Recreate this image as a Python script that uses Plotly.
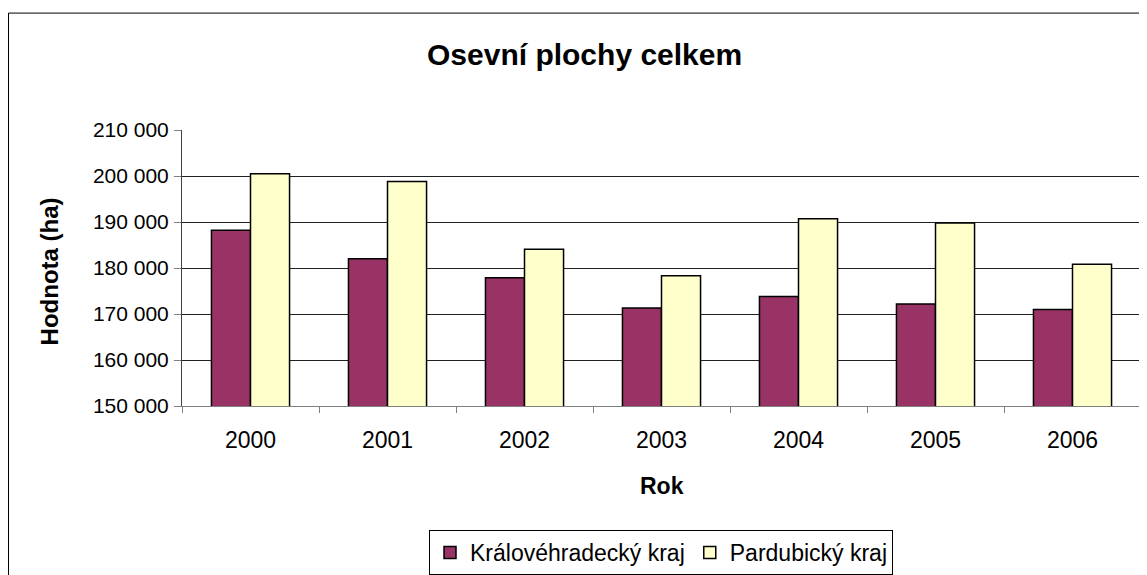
import plotly.graph_objects as go

years = ["2000", "2001", "2002", "2003", "2004", "2005", "2006"]
kralovehradecky = [188200, 182000, 177900, 171300, 173800, 172200, 171000]
pardubicky = [200500, 198800, 184100, 178300, 190700, 189800, 180800]
series_names = ["Královéhradecký kraj", "Pardubický kraj"]
y_ticks = [150000, 160000, 170000, 180000, 190000, 200000, 210000]

FONT = "Arial, Liberation Sans, sans-serif"
W, H = 1147, 575
OFF = 8  # page body margin shifts the figure by this much
# target plot area in screen pixels
PL, PR, PT, PB = 182, 1141, 129.5, 405.7
L = PL - OFF
T = PT - OFF
R = W - (PR - OFF)
B = H - (PB - OFF)

fig = go.Figure()
fig.add_trace(go.Bar(
    x=years, y=kralovehradecky, name=series_names[0],
    marker=dict(color="#993366", line=dict(color="black", width=1.5)),
))
fig.add_trace(go.Bar(
    x=years, y=pardubicky, name=series_names[1],
    marker=dict(color="#FFFFCC", line=dict(color="black", width=1.5)),
))

pw = PR - PL
ph = PB - PT

def px_x(p):
    return (p - PL) / pw

def px_y(p):
    return (PB - p) / ph

fig.update_layout(
    width=W, height=H,
    margin=dict(l=L, r=R, t=T, b=B, pad=0, autoexpand=False),
    paper_bgcolor="white", plot_bgcolor="white",
    barmode="group", bargap=0.43, bargroupgap=0,
    separators=", ",
    font=dict(family=FONT, color="black"),
    showlegend=True,
    legend=dict(
        orientation="h", x=px_x(661), xanchor="center",
        yref="container", y=1 - (530 - OFF) / H, yanchor="top",
        bordercolor="black", borderwidth=1, bgcolor="white",
        font=dict(size=23, family=FONT, color="black"),
        itemwidth=30, traceorder="normal",
    ),
    xaxis=dict(
        type="category", tickson="boundaries", ticks="outside", ticklen=6,
        tickcolor="#808080", showline=True, linecolor="#808080", linewidth=1,
        showgrid=False, tickfont=dict(size=23, family=FONT, color="black"),
        ticklabelstandoff=13, fixedrange=True, automargin=False,
    ),
    yaxis=dict(
        range=[150000, 210000], tickvals=y_ticks, tickformat=",.0f",
        ticks="outside", ticklen=7, tickcolor="#808080",
        showline=True, linecolor="#404040", linewidth=1,
        showgrid=True, gridcolor="#202020", gridwidth=1,
        tickfont=dict(size=21, family=FONT, color="black"),
        ticklabelstandoff=1, zeroline=False, fixedrange=True, automargin=False,
    ),
    shapes=[dict(
        type="rect", xref="paper", yref="paper",
        x0=px_x(8.5), x1=px_x(1170), y0=px_y(600), y1=px_y(12.5),
        line=dict(color="black", width=1), fillcolor="rgba(0,0,0,0)", layer="below",
    )],
    annotations=[
        dict(text="<b>Osevní plochy celkem</b>", xref="paper", yref="paper",
             x=px_x(584), y=px_y(54), xanchor="center", yanchor="middle",
             showarrow=False, font=dict(size=30, family=FONT, color="black")),
        dict(text="<b>Rok</b>", xref="paper", yref="paper",
             x=px_x(662), y=px_y(486), xanchor="center", yanchor="middle",
             showarrow=False, font=dict(size=23, family=FONT, color="black")),
        dict(text="<b>Hodnota (ha)</b>", xref="paper", yref="paper",
             x=px_x(49), y=px_y(271), xanchor="center", yanchor="middle",
             textangle=-90, showarrow=False,
             font=dict(size=24, family=FONT, color="black")),
    ],
)

fig.write_html("out.html")
